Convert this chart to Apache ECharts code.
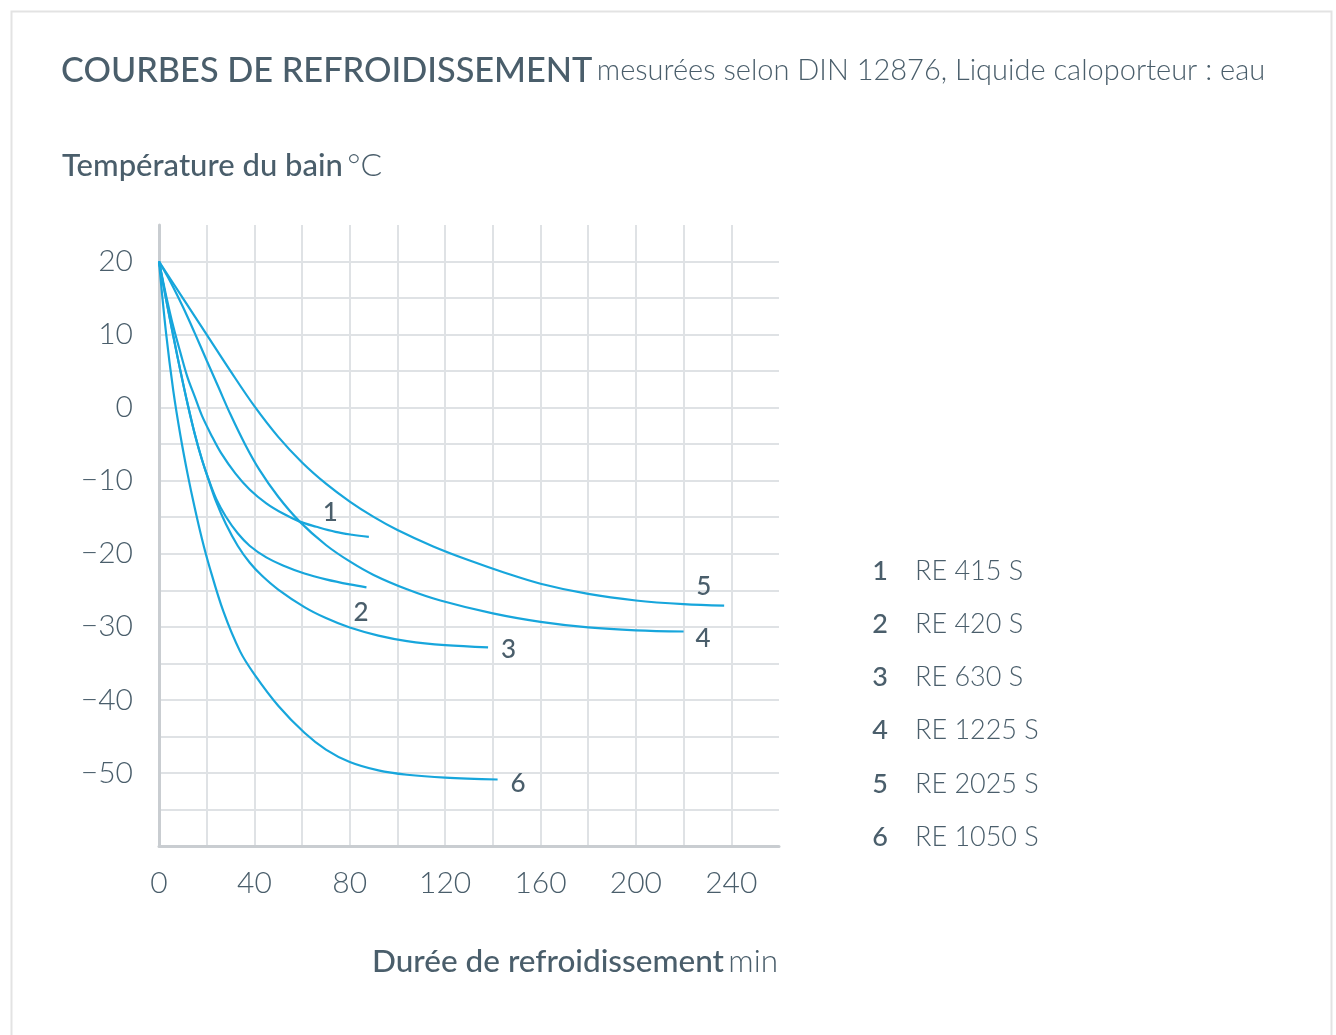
<!DOCTYPE html>
<html>
<head>
<meta charset="utf-8">
<script src="https://cdn.jsdelivr.net/npm/echarts@6/dist/echarts.min.js"></script>
<style>
  html, body { margin: 0; padding: 0; background: #fff; }
  #chart { width: 1336px; height: 1035px; }
</style>
</head>
<body>
<div id="chart"></div>
<script>
// modèles et numéros des courbes
const models = ['RE 415 S', 'RE 420 S', 'RE 630 S', 'RE 1225 S', 'RE 2025 S', 'RE 1050 S']
const curveNumbers = ['1', '2', '3', '4', '5', '6']

// graduations affichées
const xLabels = [0, 40, 80, 120, 160, 200, 240]
const yLabels = [20, 10, 0, -10, -20, -30, -40, -50]

// valeurs : durée (min) / température (°C)
const t1 = [0, 3, 6, 9, 12, 15, 18, 22, 26, 32, 38, 45, 52, 59, 66, 74, 81, 88]
const v1 = [20, 15.3, 11.1, 7.5, 4.1, 1.5, -1.1, -3.8, -6.2, -9, -11.2, -13.1, -14.5, -15.6, -16.3, -17, -17.4, -17.7]

const t2 = [0, 3, 6, 9, 12, 15, 18, 21, 24, 28, 33, 38, 45, 52, 61, 70, 80, 87]
const v2 = [20, 14.8, 9.8, 5, 0.5, -3.6, -7.1, -10, -12.5, -14.9, -17.2, -18.9, -20.5, -21.6, -22.7, -23.5, -24.2, -24.6]

const t3 = [0, 3, 6, 9, 12, 15, 18, 21, 24, 28, 33, 38, 43, 50, 61, 70, 80, 92, 104, 120, 138]
const v3 = [20, 14.8, 9.8, 5, 0.5, -3.6, -7.1, -10.1, -12.9, -15.9, -18.9, -21.2, -22.95, -24.9, -27.3, -28.8, -30.1, -31.2, -31.95, -32.5, -32.8]

const t4 = [0, 5, 10, 15, 20, 25, 30, 36, 42, 50, 59, 70, 80, 90, 104, 118, 140, 160, 180, 200, 220]
const v4 = [20, 17.1, 13.8, 10.2, 6.45, 2.75, -0.95, -4.97, -8.45, -12.2, -15.6, -18.8, -21.05, -22.9, -24.86, -26.4, -28.16, -29.32, -30.08, -30.48, -30.64]

const t5 = [0, 10, 20, 30, 40, 50, 60, 70, 80, 90, 100, 115, 130, 145, 160, 180, 200, 220, 237]
const v5 = [20, 15, 10, 5, 0.2, -4, -7.5, -10.4, -12.85, -14.95, -16.75, -19, -20.9, -22.6, -24.1, -25.5, -26.4, -26.9, -27.1]

const t6 = [0, 3, 6, 9, 12, 15, 18, 21, 27, 34, 40, 50, 61, 70, 80, 92, 104, 120, 142]
const v6 = [20, 10.1, 2.3, -3.85, -9.1, -13.75, -17.95, -21.6, -27.9, -33.36, -36.5, -40.8, -44.5, -46.8, -48.5, -49.65, -50.25, -50.65, -50.9]

const times = [t1, t2, t3, t4, t5, t6]
const temps = [v1, v2, v3, v4, v5, v6]

// décalage des numéros en bout de courbe
const labelOffsets = [[-54, -24], [-21, 25], [5, 2], [4, 7], [-36, -19], [5, 4]]

const textColor = '#4a5e6b'
const lineColor = '#17a6dc'
const gridColor = '#dfe2e5'
const axisColor = '#c9cdd1'
const font = 'Lato, "Open Sans", sans-serif'

const chart = echarts.init(document.getElementById('chart'))

const series = models.map((name, i) => ({
  name: name,
  type: 'line',
  smooth: 0.35,
  symbol: 'none',
  lineStyle: { color: lineColor, width: 2.2 },
  itemStyle: { color: lineColor },
  data: times[i].map((t, k) => [t, temps[i][k]]),
  endLabel: {
    show: true,
    formatter: () => curveNumbers[i],
    offset: labelOffsets[i],
    color: textColor,
    fontFamily: font,
    fontSize: 26,
    fontWeight: 500,
  },
  emphasis: { disabled: true },
}))

const option = {
  backgroundColor: '#fff',
  animation: false,
  textStyle: { fontFamily: font },
  title: [
    {
      text: '{a|COURBES DE REFROIDISSEMENT} {b|mesurées selon DIN 12876, Liquide caloporteur : eau}',
      left: 56,
      top: 49,
      textStyle: {
        rich: {
          a: { fontFamily: font, fontSize: 34.3, fontWeight: 500, color: textColor },
          b: { fontFamily: font, fontSize: 29, fontWeight: 300, color: textColor },
        },
      },
    },
    {
      text: '{a|Température du bain} {b|°C}',
      left: 57,
      top: 145,
      textStyle: {
        rich: {
          a: { fontFamily: font, fontSize: 31, fontWeight: 500, color: textColor },
          b: { fontFamily: font, fontSize: 32, fontWeight: 300, color: textColor },
        },
      },
    },
    {
      text: '{a|Durée de refroidissement} {b|min}',
      right: 553,
      top: 941,
      textStyle: {
        rich: {
          a: { fontFamily: font, fontSize: 31.5, fontWeight: 500, color: textColor },
          b: { fontFamily: font, fontSize: 31.5, fontWeight: 300, color: textColor },
        },
      },
    },
  ],
  legend: {
    orient: 'vertical',
    left: 859,
    top: 551,
    icon: 'rect',
    itemWidth: 0,
    itemHeight: 0,
    itemGap: 23.2,
    selectedMode: false,
    data: models,
    formatter: (name) => `{n|${curveNumbers[models.indexOf(name)]}}{m|${name}}`,
    textStyle: {
      rich: {
        n: { fontFamily: font, fontSize: 27, fontWeight: 500, color: textColor, width: 22, align: 'center', height: 30, lineHeight: 30 },
        m: { fontFamily: font, fontSize: 27, fontWeight: 300, color: textColor, padding: [0, 0, 0, 24], height: 30, lineHeight: 30 },
      },
    },
  },
  grid: { left: 159, right: 557, top: 225, bottom: 189 },
  xAxis: {
    type: 'value',
    min: 0,
    max: 260,
    interval: 20,
    axisLine: { onZero: false, lineStyle: { color: axisColor, width: 3 } },
    axisTick: { show: false },
    axisLabel: {
      formatter: (v) => (xLabels.includes(v) ? String(v) : ''),
      margin: 22,
      fontSize: 30,
      fontWeight: 300,
      color: textColor,
      fontFamily: font,
    },
    splitLine: { show: true, showMinLine: false, showMaxLine: false, lineStyle: { color: gridColor, width: 2 } },
  },
  yAxis: {
    type: 'value',
    min: -60,
    max: 25,
    interval: 5,
    axisLine: { show: true, onZero: false, lineStyle: { color: axisColor, width: 3 } },
    axisTick: { show: false },
    axisLabel: {
      formatter: (v) => (yLabels.includes(v) ? String(v).replace('-', '\u2212') : ''),
      margin: 26,
      fontSize: 30,
      fontWeight: 300,
      color: textColor,
      fontFamily: font,
    },
    splitLine: { show: true, showMinLine: false, showMaxLine: false, lineStyle: { color: gridColor, width: 2 } },
  },
  graphic: [
    {
      type: 'rect',
      left: 9,
      top: 9,
      shape: { width: 1320, height: 1040 },
      style: { fill: 'none', stroke: '#e3e3e3', lineWidth: 2 },
      silent: true,
      z: -1,
    },
  ],
  series: series,
}

chart.setOption(option)
</script>
</body>
</html>
